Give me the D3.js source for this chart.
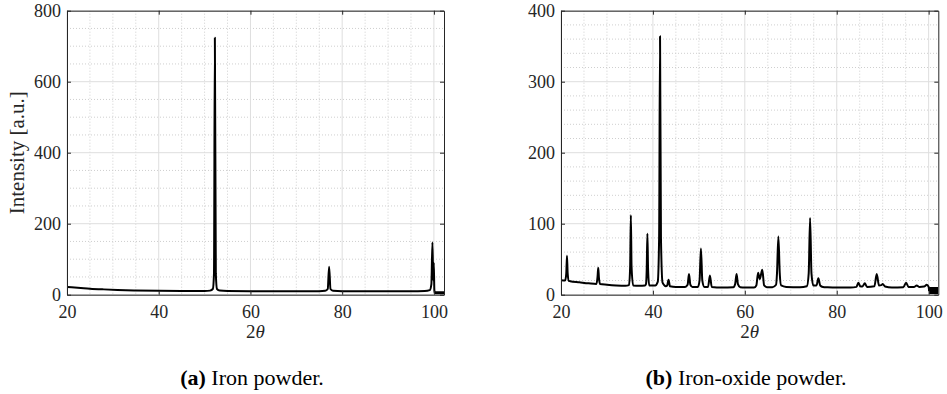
<!DOCTYPE html>
<html>
<head>
<meta charset="utf-8">
<script src="https://cdn.jsdelivr.net/npm/d3@7"></script>
<style>
  body { margin: 0; background: #fff; }
  svg text { font-family: "Liberation Serif", "Times New Roman", serif !important; }
</style>
</head>
<body>
<svg id="fig" width="947" height="394"></svg>
<script>
// ---- X-ray diffraction data (2θ in degrees, intensity in arbitrary units) ----
const xTickValues = [20, 40, 60, 80, 100];
const ironYTicks = [0, 200, 400, 600, 800];
const oxideYTicks = [0, 100, 200, 300, 400];

// (a) iron powder
const ironTheta = [
  20, 21, 23, 25, 28, 31, 35, 40, 45, 50,
  51.2, 51.8, 52.05, 52.24, 52.45, 52.7, 53.3, 55, 60, 65, 70, 75,
  76.3, 76.85, 77.15, 77.45, 78.0, 80, 85, 90, 95, 98,
  99.1, 99.45, 99.68, 99.85, 99.97, 100.1, 100.2
];
const ironIntensity = [
  22, 21, 19, 17, 15, 13.5, 12, 11, 10.5, 10.5,
  11.5, 16, 60, 724, 60, 16, 11.5, 10.5, 10, 10, 10, 10,
  11, 16, 79, 16, 11, 10, 10, 10, 10, 10.5,
  13, 30, 148, 40, 90, 12, 5
];
// dense detector noise at the end of the scan (drawn as a filled band)
const ironTailTheta = [100.2, 102.2];
const ironTailLow = [1, 1];
const ironTailHigh = [10, 10];

// (b) iron-oxide powder
const oxideTheta = [
  20, 20.9, 21.15, 21.3, 21.45, 21.7, 22, 24, 26, 27.7,
  27.95, 28.1, 28.25, 28.5, 30, 32, 34, 34.8, 35.05, 35.2, 35.35, 35.7,
  37, 38.3, 38.5, 38.65, 38.8, 38.95, 39.2, 40.5, 41.05, 41.35, 41.55, 41.75, 42.1, 42.8,
  43.1, 43.4, 43.7, 45, 47, 47.55, 47.85, 48.15, 48.6,
  49.8, 50.15, 50.45, 50.75, 51.2, 52.0, 52.4, 52.8, 55, 57.5, 57.9, 58.2, 58.5, 59,
  60, 62, 62.5, 62.9, 63.25, 63.8, 64.2, 64.8, 66, 66.8, 67.0, 67.3, 67.6, 67.9, 69,
  72, 73.5, 73.9, 74.2, 74.5, 74.9, 75.6, 76.0, 76.4, 77, 78,
  80, 83, 84.3, 84.7, 85.1, 85.6, 86.1, 86.6, 88.2, 88.7, 89.2, 89.7, 90.0, 90.5,
  92, 94.5, 95.1, 95.6, 96.8, 97.4, 98, 99, 99.6, 100.0, 100.1
];
const oxideIntensity = [
  20.5, 20, 30, 55, 30, 19.5, 19, 17.5, 16, 15,
  25, 38, 24, 15, 14, 13, 12.5, 13.5, 40, 112, 40, 13,
  12.5, 13, 15, 35, 86, 35, 13, 13, 18, 80, 364, 80, 17, 12,
  13, 21, 12, 11, 11, 14, 29, 14, 11,
  11, 20, 65, 20, 11, 11, 27, 11, 10, 10.5, 15, 29, 15, 10.5,
  10, 10, 13, 31, 22, 35, 13, 10.5, 10.5, 14, 30, 82, 30, 13, 11,
  10.5, 12, 30, 108, 30, 13, 13, 23, 13, 11, 10.5,
  10, 10, 11, 17, 12, 11.5, 16, 11, 12, 29, 13, 13.5, 15, 11.5,
  10, 10.5, 17, 11, 11, 13, 11, 11.5, 14, 11, 5
];
const oxideTailTheta = [100.1, 102.1];
const oxideTailLow = [1, 1];
const oxideTailHigh = [11, 11];

// ---- figure layout ----
const serif = '"Liberation Serif", "Times New Roman", serif';
const panels = [
  {
    left: 67, right: 444, top: 10.7, bottom: 294.7,
    xMax: 102.2, yMax: 800, yTicks: ironYTicks, yMinor: 50,
    theta: ironTheta, intensity: ironIntensity,
    tailTheta: ironTailTheta, tailLow: ironTailLow, tailHigh: ironTailHigh,
    tag: "(a)", caption: " Iron powder.", captionX: 252, ylabel: "Intensity [a.u.]"
  },
  {
    left: 561, right: 938.3, top: 10.7, bottom: 294.7,
    xMax: 102.1, yMax: 400, yTicks: oxideYTicks, yMinor: 20,
    theta: oxideTheta, intensity: oxideIntensity,
    tailTheta: oxideTailTheta, tailLow: oxideTailLow, tailHigh: oxideTailHigh,
    tag: "(b)", caption: " Iron-oxide powder.", captionX: 746, ylabel: null
  }
];

const svg = d3.select("#fig").attr("font-family", serif);
const axisColor = "#262626";

panels.forEach((p, i) => {
  const x = d3.scaleLinear().domain([20, p.xMax]).range([p.left, p.right]);
  const y = d3.scaleLinear().domain([0, p.yMax]).range([p.bottom, p.top]);
  const g = svg.append("g").attr("font-family", serif);

  // minor grid (dotted)
  const xMinor = d3.range(25, p.xMax, 5).filter(v => v % 20 !== 0);
  const yMinor = d3.range(p.yMinor, p.yMax, p.yMinor).filter(v => !p.yTicks.includes(v));
  g.append("g").selectAll("line").data(xMinor).join("line")
    .attr("x1", d => x(d)).attr("x2", d => x(d))
    .attr("y1", p.top).attr("y2", p.bottom)
    .attr("stroke", "#cfcfcf").attr("stroke-width", 1).attr("stroke-dasharray", "1,2");
  g.append("g").selectAll("line").data(yMinor).join("line")
    .attr("x1", p.left).attr("x2", p.right)
    .attr("y1", d => y(d)).attr("y2", d => y(d))
    .attr("stroke", "#cfcfcf").attr("stroke-width", 1).attr("stroke-dasharray", "1,2");

  // major grid
  g.append("g").selectAll("line").data(xTickValues).join("line")
    .attr("x1", d => x(d)).attr("x2", d => x(d))
    .attr("y1", p.top).attr("y2", p.bottom)
    .attr("stroke", "#dedede").attr("stroke-width", 1);
  g.append("g").selectAll("line").data(p.yTicks).join("line")
    .attr("x1", p.left).attr("x2", p.right)
    .attr("y1", d => y(d)).attr("y2", d => y(d))
    .attr("stroke", "#dedede").attr("stroke-width", 1);

  // clip region for the data
  const clipId = "clip" + i;
  svg.append("clipPath").attr("id", clipId).append("rect")
    .attr("x", p.left).attr("y", p.top)
    .attr("width", p.right - p.left).attr("height", p.bottom - p.top);

  const pts = p.theta.map((t, k) => [t, p.intensity[k]]);
  const line = d3.line().x(d => x(d[0])).y(d => y(d[1])).curve(d3.curveMonotoneX);
  g.append("path").datum(pts)
    .attr("clip-path", `url(#${clipId})`)
    .attr("d", line)
    .attr("fill", "none").attr("stroke", "#000").attr("stroke-width", 2)
    .attr("stroke-linejoin", "round");

  const tail = p.tailTheta.map((t, k) => [t, p.tailLow[k], p.tailHigh[k]]);
  const area = d3.area().x(d => x(d[0])).y0(d => y(d[1])).y1(d => y(d[2]));
  g.append("path").datum(tail)
    .attr("clip-path", `url(#${clipId})`)
    .attr("d", area).attr("fill", "#000");

  // axes with inward ticks on all four sides
  const bottomAxis = g.append("g").attr("transform", `translate(0,${p.bottom})`)
    .call(d3.axisBottom(x).tickValues(xTickValues).tickSize(-4).tickPadding(11).tickSizeOuter(0));
  const topAxis = g.append("g").attr("transform", `translate(0,${p.top})`)
    .call(d3.axisTop(x).tickValues(xTickValues).tickSize(-4).tickFormat("").tickSizeOuter(0));
  const leftAxis = g.append("g").attr("transform", `translate(${p.left},0)`)
    .call(d3.axisLeft(y).tickValues(p.yTicks).tickSize(-4).tickPadding(6).tickSizeOuter(0));
  const rightAxis = g.append("g").attr("transform", `translate(${p.right},0)`)
    .call(d3.axisRight(y).tickValues(p.yTicks).tickSize(-4).tickFormat("").tickSizeOuter(0));
  [bottomAxis, topAxis, leftAxis, rightAxis].forEach(a => {
    a.attr("font-family", serif).attr("font-size", 18);
    a.select(".domain").attr("stroke", axisColor).attr("stroke-width", 1);
    a.selectAll(".tick line").attr("stroke", axisColor).attr("stroke-width", 1);
    a.selectAll(".tick text").attr("fill", axisColor)
      .attr("font-family", serif).attr("font-size", 18);
  });

  // axis labels
  const xl = g.append("text")
    .attr("x", (p.left + p.right) / 2).attr("y", 338)
    .attr("text-anchor", "middle").attr("fill", axisColor)
    .attr("font-family", serif).attr("font-size", 19);
  xl.append("tspan").text("2");
  xl.append("tspan").attr("font-style", "italic").text("θ");

  if (p.ylabel) {
    g.append("text")
      .attr("transform", `translate(24,${(p.top + p.bottom) / 2}) rotate(-90)`)
      .attr("text-anchor", "middle").attr("fill", axisColor)
      .attr("font-family", serif).attr("font-size", 21)
      .text(p.ylabel);
  }

  // sub-figure caption
  const cap = g.append("text")
    .attr("x", p.captionX).attr("y", 385)
    .attr("text-anchor", "middle").attr("fill", "#000")
    .attr("font-family", serif).attr("font-size", 22);
  cap.append("tspan").attr("font-weight", "bold").text(p.tag);
  cap.append("tspan").text(p.caption);
});
</script>
</body>
</html>
